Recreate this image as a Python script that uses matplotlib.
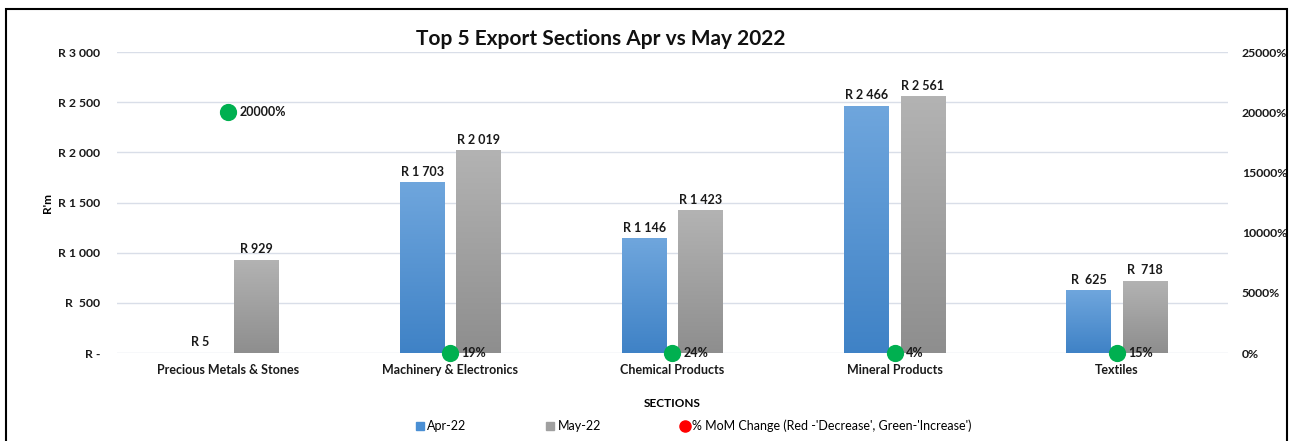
import matplotlib
matplotlib.use("Agg")
import matplotlib.pyplot as plt
import numpy as np
from matplotlib.colors import LinearSegmentedColormap
from matplotlib.lines import Line2D
from matplotlib.patches import Rectangle

plt.rcParams['font.family'] = ['Lato', 'DejaVu Sans']

categories = ["Precious Metals & Stones", "Machinery & Electronics", "Chemical Products",
              "Mineral Products", "Textiles"]
apr = [5, 1703, 1146, 2466, 625]
may = [929, 2019, 1423, 2561, 718]
pct = [20000, 19, 24, 4, 15]
apr_labels = ["R 5", "R 1 703", "R 1 146", "R 2 466", "R  625"]
may_labels = ["R 929", "R 2 019", "R 1 423", "R 2 561", "R  718"]
pct_labels = ["20000%", "19%", "24%", "4%", "15%"]
left_ticks = [0, 500, 1000, 1500, 2000, 2500, 3000]
left_ticklabels = ["R -", "R  500", "R 1 000", "R 1 500", "R 2 000", "R 2 500", "R 3 000"]
right_ticks = [0, 5000, 10000, 15000, 20000, 25000]
right_ticklabels = ["0%", "5000%", "10000%", "15000%", "20000%", "25000%"]

fig = plt.figure(figsize=(12.91, 4.41), dpi=100)
ax = fig.add_axes([0.0906, 0.1995, 0.8606, 0.6825])
x = np.arange(len(categories))
w = 0.2
off = 0.127

blue_cmap = LinearSegmentedColormap.from_list("b", ["#3f82c6", "#6fa6dd"])
gray_cmap = LinearSegmentedColormap.from_list("g", ["#8e8e8e", "#b3b3b3"])
grad = np.linspace(0, 1, 256).reshape(-1, 1)

def grad_bars(xs, vals, cmap):
    bars = ax.bar(xs, vals, width=w, color='none', edgecolor='none', zorder=2)
    for b in bars:
        x0 = b.get_x(); h = b.get_height()
        im = ax.imshow(grad, extent=[x0, x0 + w, 0, h], origin='lower', aspect='auto',
                       cmap=cmap, zorder=2)
        im.set_clip_path(b)
    return bars

grad_bars(x - off, apr, blue_cmap)
grad_bars(x + off, may, gray_cmap)

for xi, v, lab in zip(x - off, apr, apr_labels):
    ax.text(xi, v + 45, lab, ha='center', va='bottom', fontsize=9, fontweight='bold', color='#1a1a1a')
for xi, v, lab in zip(x + off, may, may_labels):
    ax.text(xi, v + 45, lab, ha='center', va='bottom', fontsize=9, fontweight='bold', color='#1a1a1a')

ax.set_xlim(-0.5, len(categories) - 0.5)
ax.set_ylim(0, 3000)
ax.set_yticks(left_ticks)
ax.set_yticklabels(left_ticklabels, fontsize=8.8, fontweight='bold')
ax.set_xticks(x)
ax.set_xticklabels(categories, fontsize=9, fontweight='bold')
ax.tick_params(axis='both', length=0, colors='#1a1a1a')
ax.tick_params(axis='y', pad=12)
ax.tick_params(axis='x', pad=8)
ax.grid(axis='y', color='#d9dee8', linewidth=1, zorder=0)
ax.set_axisbelow(True)
for s in ax.spines.values():
    s.set_visible(False)
ax.set_ylabel("R'm", fontsize=8.5, fontweight='bold', labelpad=4)
ax.set_xlabel("SECTIONS", fontsize=8.5, fontweight='bold', labelpad=16)
ax.yaxis.set_label_coords(-0.058, 0.5)

ax2 = ax.twinx()
ax2.set_ylim(0, 25000)
ax2.set_yticks(right_ticks)
ax2.set_yticklabels(right_ticklabels, fontsize=8.8, fontweight='bold')
ax2.tick_params(axis='y', length=0, pad=10, colors='#1a1a1a')
for s in ax2.spines.values():
    s.set_visible(False)
ax2.scatter(x, pct, s=130, color='#00b050', zorder=5, clip_on=False)
for xi, v, lab in zip(x, pct, pct_labels):
    ax2.text(xi + 0.05, v, lab, ha='left', va='center', fontsize=9, fontweight='bold', color='#1a1a1a')

fig.text(0.465, 0.912, "Top 5 Export Sections Apr vs May 2022", ha='center', va='center',
         fontsize=15, fontweight='bold', color='#111111')

handles = [
    Line2D([], [], marker='s', linestyle='none', markersize=6, color='#4a8fd4'),
    Line2D([], [], marker='s', linestyle='none', markersize=6, color='#a0a0a0'),
    Line2D([], [], marker='o', linestyle='none', markersize=8, color='#ff0000'),
]
fig.legend(handles, ["Apr-22", "May-22", "% MoM Change (Red -'Decrease', Green-'Increase')"],
           loc='center', bbox_to_anchor=(0.5365, 0.034), ncol=3, frameon=False,
           fontsize=9, handletextpad=0.1, columnspacing=6.2, handlelength=1.0)

fig.add_artist(Rectangle((6 / 1291, -0.05), (1287 - 6) / 1291, 1 - 9 / 441 + 0.05,
                         transform=fig.transFigure, fill=False, edgecolor='black',
                         linewidth=1.5, clip_on=False))

fig.savefig("out.png", dpi=100)
